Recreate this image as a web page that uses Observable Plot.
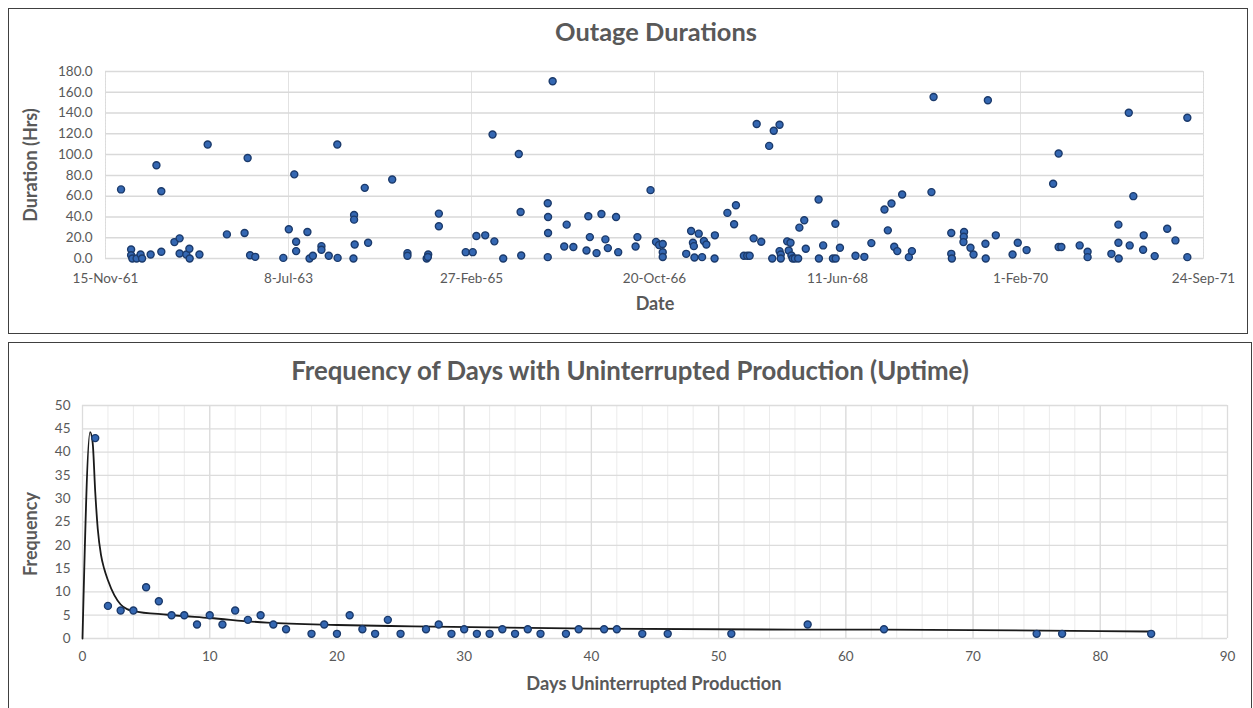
<!DOCTYPE html>
<html><head><meta charset="utf-8">
<script src="https://cdn.jsdelivr.net/npm/d3@7"></script>
<script src="https://cdn.jsdelivr.net/npm/@observablehq/plot@0.6"></script>
<style>
body{margin:0;background:#fff;width:1253px;height:708px;overflow:hidden;position:relative;font-family:Lato,"Open Sans",sans-serif;}
.panel{position:absolute;box-sizing:border-box;border:1.5px solid #404040;background:#fff;}
.t{position:absolute;color:#595959;font-weight:bold;white-space:nowrap;transform:translate(-50%,-50%);}
.rot{transform:translate(-50%,-50%) rotate(-90deg);}
.chart{position:absolute;left:0;}
</style></head><body>
<div class="panel" style="left:8px;top:8px;width:1240px;height:326px"></div>
<div class="panel" style="left:8px;top:342px;width:1244px;height:380px"></div>
<div id="c1" class="chart" style="top:0px"></div>
<div id="c2" class="chart" style="top:340px"></div>
<div class="t" style="left:656px;top:31px;font-size:25.4px">Outage Durations</div>
<div class="t rot" style="left:30px;top:165px;font-size:18px">Duration (Hrs)</div>
<div class="t" style="left:655px;top:303px;font-size:18px">Date</div>
<div class="t" style="left:630px;top:370px;font-size:25.8px">Frequency of Days with Uninterrupted Production (Uptime)</div>
<div class="t rot" style="left:30px;top:534px;font-size:18px">Frequency</div>
<div class="t" style="left:654px;top:683px;font-size:18.3px">Days Uninterrupted Production</div>
<script>
// ---- Top chart: outage durations (dates as Excel serial day numbers) ----
const outageSerial = [22651,22684,22684,22688,22702,22715,22720,22748,22767,22783,22783,22826,22843,22843,22865,22875,22876,22908,22935,22998,
23056,23066,23074,23091,23183,23201,23219,23225,23225,23262,23269,23280,23308,23308,23332,23360,23361,23413,23415,23415,
23417,23450,23461,23540,23590,23590,23653,23658,23657,23693,23693,23781,23804,23816,23845,23869,23875,23904,23955,23961,
23963,24050,24051,24051,24050,24066,24104,24112,24134,24177,24183,24188,24210,24226,24239,24247,24274,24281,24338,24344,
24387,24405,24415,24427,24427,24427,24504,24520,24526,24529,24531,24545,24556,24562,24570,24598,24597,24639,24661,24667,
24693,24704,24712,24725,24735,24750,24776,24786,24791,24810,24810,24814,24814,24835,24846,24840,24849,24853,24860,24871,
24875,24891,24896,24938,24939,24953,24985,24993,24994,25008,25059,25088,25111,25154,25165,25177,25186,25196,25212,25234,
25244,25308,25315,25373,25373,25375,25415,25414,25413,25436,25446,25485,25486,25493,25519,25574,25591,25620,25707,25725,
25725,25734,25794,25820,25820,25898,25921,25921,25922,25955,25958,25970,26002,26004,26040,26081,26108,26147,26147];
const outageHrs = [66.5,8.7,3.2,0,0,3.9,0,3.9,89.7,64.8,6.5,15.8,19.4,4.8,3.9,9.4,0,3.9,109.7,23.2,
24.5,96.8,3.2,1.6,0.6,28.1,81,16.1,7.1,25.5,0,2.6,11.9,8.4,2.6,109.7,0.6,0,41.9,37.4,
13.5,68,15.2,76.1,5.2,2.6,0,3.9,1.5,43.2,31,6.1,6.1,21.6,22.3,119.4,16.5,0,100.6,44.8,
2.9,53.2,40,24.5,1.3,170.6,11.6,32.6,11,7.7,40.6,20.6,5.2,42.9,18.4,10,40,6.1,11.6,20.6,
65.8,16,13,14,6,1.5,4.5,26.5,15.2,11.9,1,23.9,1.3,16.8,13.5,22.3,0,43.9,32.9,51.3,
2.6,2.6,2.6,19.4,129.4,16.1,108.4,0,122.9,128.7,7.1,3.9,0,16.5,15.2,7.7,2.9,0,0,0,
29.7,36.8,9.4,56.8,0,12.6,0,33.5,0,10.3,2.6,1.6,14.8,47.1,27.1,52.9,11.3,7.1,61.6,1.3,
7.1,63.9,155.5,24.5,4.5,0,25.5,21,15.8,10.3,3.9,14.2,0,152.3,22.3,3.9,15.2,8.1,71.9,101,
11,11,12.6,6.5,1.3,4.5,32.6,15.2,0,140.3,12.6,60,8.4,22.3,2.3,28.7,17.4,135.5,1.3];
const dateTickSerials = [22600,23200,23800,24400,25000,25600,26200]; // 15-Nov-61 ... 24-Sep-71
const hrsTicks = [0,20,40,60,80,100,120,140,160,180];

// ---- Bottom chart: frequency of uptime days ----
const uptimeDays = [1,2,3,4,5,6,7,8,9,10,11,12,13,14,15,16,18,19,20,21,22,23,24,25,27,28,29,30,31,32,33,34,35,36,38,39,41,42,44,46,51,57,63,75,77,84];
const uptimeFreq = [43,7,6,6,11,8,5,5,3,5,3,6,4,5,3,2,1,3,1,5,2,1,4,1,2,3,1,2,1,1,2,1,2,1,1,2,2,2,1,1,1,3,2,1,1,1];
const fitDays = [0,0.6,0.8,1.0,1.2,1.45,1.7,2,2.5,3,3.5,4,6.7,10,14.5,20,26,40,56,63,70,80,84];
const fitFreq = [0,44.3,42,31.5,23.5,18,15,12.5,9.3,7.3,6.3,5.9,5.1,4.4,3.4,2.9,2.6,2.1,1.9,1.9,1.8,1.6,1.5];
const dayTicks = [0,10,20,30,40,50,60,70,80,90];
const freqTicks = [0,5,10,15,20,25,30,35,40,45,50];

const months = ["Jan","Feb","Mar","Apr","May","Jun","Jul","Aug","Sep","Oct","Nov","Dec"];
const excelToDate = s => new Date(Date.UTC(1899,11,30) + s*864e5);
const fmtDate = d => `${d.getUTCDate()}-${months[d.getUTCMonth()]}-${String(d.getUTCFullYear()).slice(2)}`;
const tickDates = dateTickSerials.map(excelToDate);
const outages = outageSerial.map((s,i)=>({date: excelToDate(s), hrs: outageHrs[i]}));
const uptime = uptimeDays.map((d,i)=>({days:d, freq:uptimeFreq[i]}));
const fit = fitDays.map((d,i)=>({days:d, freq:fitFreq[i]}));

const baseStyle = {background:"transparent", fontFamily:"Lato, 'Open Sans', sans-serif", fontSize:"13.5px", color:"#595959", overflow:"visible"};
const dotFill = "#3467b2", dotStroke = "#1b3a6b";

const p1 = Plot.plot({
  width:1253, height:330,
  marginLeft:105, marginRight:50, marginTop:71, marginBottom:72,
  style: baseStyle,
  x:{type:"utc", domain:[tickDates[0], tickDates[tickDates.length-1]], ticks:tickDates, tickFormat:fmtDate, tickSize:0, tickPadding:15, label:null},
  y:{domain:[0,180], ticks:hrsTicks, tickFormat:d3.format(".1f"), tickSize:0, tickPadding:13, label:null},
  marks:[
    Plot.ruleX(tickDates, {stroke:"#e2e2e2", strokeWidth:1}),
    Plot.ruleY(hrsTicks, {stroke:"#d9d9d9", strokeWidth:1.5}),
    Plot.frame({stroke:"#dadada", strokeDasharray:"2,1"}),
    Plot.dot(outages, {x:"date", y:"hrs", r:3.5, fill:dotFill, stroke:dotStroke, strokeWidth:1.4})
  ]
});
document.getElementById("c1").append(p1);

const p2 = Plot.plot({
  width:1253, height:368,
  marginLeft:82, marginRight:26, marginTop:65, marginBottom:70,
  style: baseStyle,
  x:{domain:[0,90], ticks:dayTicks, tickSize:0, tickPadding:13, label:null},
  y:{domain:[0,50], ticks:freqTicks, tickSize:0, tickPadding:12, label:null},
  marks:[
    Plot.ruleX(d3.range(0,91,2), {stroke:"#ebebeb", strokeWidth:1}),
    Plot.ruleX(dayTicks, {stroke:"#dcdcdc", strokeWidth:1.3}),
    Plot.ruleY(freqTicks, {stroke:"#dcdcdc", strokeWidth:1.3}),
    Plot.line(fit, {x:"days", y:"freq", stroke:"#1a1a1a", strokeWidth:1.8, curve:"monotone-x"}),
    Plot.dot(uptime, {x:"days", y:"freq", r:3.5, fill:dotFill, stroke:dotStroke, strokeWidth:1.4})
  ]
});
document.getElementById("c2").append(p2);
</script>
</body></html>
